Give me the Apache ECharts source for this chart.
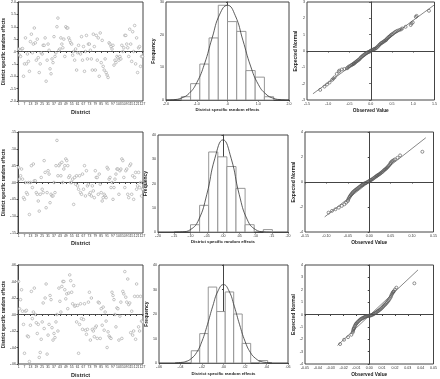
<!DOCTYPE html>
<html>
<head>
<meta charset="utf-8">
<script src="https://cdn.jsdelivr.net/npm/echarts/dist/echarts.min.js"></script>
<style>
  html, body { margin: 0; padding: 0; background: #fff; }
  #chart { width: 440px; height: 379px; }
</style>
</head>
<body>
<div id="chart"></div>
<script>
// districts 1..127
const districts = Array.from({ length: 127 }, (_, i) => String(i + 1))

// district specific random effects, one value per district (rows 1-3)
const effects1 = [
  0.1, -0.15, -0.2, 0.1, 0.12, -1.0, -0.5, 0.55, -0.5, -0.1,
  -0.4, -0.8, 0.4, 0.7, -0.05, 0.3, 0.95, 0.35, -0.35, 0.5,
  -0.25, -0.85, -0.5, -0.05, -0.1, 0.25, 0.25, 0.55, -1.2, -0.35,
  0.3, 0.05, -0.7, -0.9, -0.3, -0.45, 0.6, -0.2, -0.05, 1.0,
  1.35, 0.05, 0.1, 0.55, 0.3, 0.15, 0.5, -0.2, 1.0, 0.95,
  0.95, 0.55, 0.45, 0.35, 0.3, -0.15, 0.0, -0.35, 0.1, -0.75,
  -0.05, 0.25, -0.05, -0.1, 0.6, -0.35, 0.2, -0.8, 0.0, 0.65,
  -0.3, 0.3, 0.3, 0.05, -0.3, -0.75, 0.7, 0.2, -0.75, 0.65,
  -0.35, 0.55, -1.0, 0.75, -0.45, 0.45, -0.6, -0.75, -0.3, -0.85,
  -0.95, -1.05, 0.35, 0.3, 0.2, 0.1, 0.25, -0.55, -0.35, -0.45,
  -0.2, -0.25, -0.35, -0.2, -0.3, 0.25, 0.0, 0.15, 0.65, 0.65,
  0.3, 0.15, -0.2, 0.9, 0.3, -0.4, 0.8, 0.0, 1.05, -0.5,
  0.55, -0.85, 0.15, 0.2, -0.6, -0.2, -0.2
]
const effects2 = [
  0.045, 0.01, 0.02, 0.04, 0.01, -0.045, -0.05, 0.0, -0.03, -0.035,
  0.0, -0.095, 0.0, 0.05, -0.015, 0.055, 0.005, 0.005, -0.03, -0.035,
  -0.055, -0.085, -0.035, 0.015, -0.02, -0.03, 0.065, 0.03, -0.075, -0.03,
  0.035, 0.025, -0.06, -0.035, -0.04, -0.04, 0.0, -0.03, 0.05, 0.125,
  0.02, 0.05, 0.055, 0.02, 0.06, 0.0, 0.04, 0.05, 0.07, 0.065,
  0.05, 0.015, 0.02, 0.0, 0.0, 0.01, -0.065, 0.015, -0.005, 0.02,
  -0.01, -0.02, 0.02, -0.03, -0.035, 0.025, -0.02, 0.05, -0.04, 0.035,
  -0.01, -0.005, -0.035, -0.03, -0.04, -0.01, -0.025, -0.045, 0.035, 0.015,
  0.015, -0.035, 0.025, -0.005, -0.03, -0.055, -0.045, -0.035, -0.04, -0.045,
  0.045, 0.04, 0.01, 0.015, -0.015, 0.0, -0.05, -0.015, 0.01, 0.025,
  0.04, 0.04, -0.035, 0.035, 0.04, 0.07, 0.065, 0.015, -0.015, 0.035,
  0.04, -0.035, -0.045, 0.05, 0.055, -0.035, 0.02, -0.05, 0.015, 0.03,
  -0.02, -0.01, 0.03, -0.015, 0.0, -0.04, -0.02
]
const effects3 = [
  0.04, 0.007, 0.018, 0.03, 0.004, -0.012, -0.047, 0.004, 0.005, -0.026,
  -0.027, -0.057, -0.013, 0.028, -0.005, 0.003, 0.032, 0.0, -0.01, -0.023,
  -0.012, -0.052, -0.046, -0.03, -0.009, 0.014, -0.017, 0.02, 0.037, -0.048,
  -0.025, -0.012, 0.023, 0.018, -0.016, -0.031, -0.023, -0.028, -0.009, 0.0,
  -0.02, 0.032, 0.016, 0.003, 0.034, 0.04, 0.04, 0.03, 0.019, 0.025,
  0.007, 0.026, 0.048, 0.041, 0.027, 0.013, 0.035, 0.01, 0.011, -0.009,
  0.011, -0.047, -0.012, 0.013, -0.005, -0.018, -0.006, 0.013, -0.019, -0.024,
  -0.018, 0.015, 0.027, -0.031, 0.02, -0.018, -0.02, -0.027, -0.016, -0.014,
  -0.029, 0.015, 0.014, -0.029, 0.007, -0.013, 0.009, -0.019, 0.003, -0.008,
  -0.04, -0.021, -0.026, -0.028, -0.029, 0.027, 0.023, 0.018, 0.0, -0.015,
  0.008, 0.007, -0.031, -0.002, 0.015, -0.029, 0.028, 0.025, 0.052, 0.021,
  0.015, 0.043, 0.012, 0.014, -0.022, 0.004, -0.025, -0.02, 0.022, -0.03,
  0.037, 0.022, -0.015, -0.02, 0.022, -0.008, -0.009
]
const refLevel = 0

// histograms: bin edges and frequencies
const hist1Edges = [-1.5, -1.2, -0.9, -0.6, -0.3, 0.0, 0.3, 0.6, 0.9, 1.2, 1.5]
const hist1Counts = [1, 5, 11, 19, 29, 24, 21, 9, 7, 1]
const hist2Edges = [-0.100, -0.072, -0.044, -0.016, 0.012, 0.040, 0.068, 0.096, 0.124, 0.152]
const hist2Counts = [3, 11, 33, 31, 27, 18, 3, 0, 1]
const hist3Edges = [-0.030, -0.0221, -0.0142, -0.0063, 0.0016, 0.0095, 0.0174, 0.0253, 0.0332, 0.0411]
const hist3Counts = [5, 12, 31, 21, 29, 20, 8, 0, 1]

// normal curves
const curve1X = [-2.0, -1.75, -1.5, -1.25, -1.0, -0.75, -0.5, -0.25, 0.0, 0.25, 0.5, 0.75, 1.0, 1.25, 1.5, 1.75, 2.0]
const curve1Y = [0.0, 0.1, 0.6, 2.0, 5.3, 11.0, 19.0, 26.3, 29.0, 25.9, 18.3, 10.4, 4.8, 1.8, 0.5, 0.1, 0.0]
const curve2X = [-0.15, -0.125, -0.1, -0.075, -0.05, -0.025, 0.0, 0.025, 0.05, 0.075, 0.1, 0.125, 0.15]
const curve2Y = [0.0, 0.1, 1.0, 5.0, 15.4, 30.4, 38.0, 30.4, 15.4, 5.0, 1.0, 0.1, 0.0]
const curve3X = [-0.045, -0.04, -0.035, -0.03, -0.025, -0.02, -0.015, -0.01, -0.005, 0.0, 0.005, 0.01, 0.015, 0.02, 0.025, 0.03, 0.035, 0.04, 0.045]
const curve3Y = [0.05, 0.2, 0.6, 1.8, 4.3, 8.9, 15.6, 23.2, 29.5, 32.0, 29.5, 23.2, 15.6, 8.9, 4.3, 1.8, 0.6, 0.2, 0.05]

// normal Q-Q plots: observed value / expected normal
const qq1Obs = [-1.19, -1.09, -0.97, -0.91, -0.85, -0.80, -0.75, -0.74, -0.56, -0.52, -0.46, -0.42, -0.39, -0.35, -0.31, -0.27, -0.23, -0.19, -0.15, -0.11, -0.07, -0.03, 0.00, 0.04, 0.08, 0.12, 0.16, 0.20, 0.24, 0.28, 0.32, 0.36, 0.39, 0.43, 0.47, 0.51, 0.57, 0.63, 0.71, 0.74, 0.82, 0.94, 0.96, 0.99, 1.06, 1.08, 1.37,
  -0.54, -0.49, -0.44, -0.40, -0.37, -0.33, -0.29, -0.25, -0.21, -0.17, -0.13, -0.09, -0.05, -0.01, 0.02, 0.06, 0.10, 0.14, 0.18, 0.22, 0.26, 0.30, 0.34, 0.37, 0.41, 0.45, 0.49, 0.54, 0.60, 0.67, -0.68, -0.62, -0.88, -1.03]
const qq1Exp = [-2.38, -2.18, -1.93, -1.77, -1.61, -1.40, -1.26, -1.20, -1.06, -0.96, -0.87, -0.81, -0.75, -0.67, -0.59, -0.51, -0.39, -0.30, -0.22, -0.14, -0.08, -0.04, 0.02, 0.06, 0.12, 0.16, 0.26, 0.37, 0.47, 0.53, 0.61, 0.67, 0.77, 0.87, 0.96, 1.04, 1.16, 1.24, 1.32, 1.38, 1.48, 1.59, 1.69, 1.75, 2.09, 2.15, 2.46,
  -1.02, -0.92, -0.84, -0.78, -0.71, -0.63, -0.55, -0.45, -0.35, -0.26, -0.18, -0.11, -0.06, -0.01, 0.04, 0.09, 0.14, 0.21, 0.31, 0.42, 0.50, 0.57, 0.64, 0.72, 0.82, 0.91, 1.00, 1.10, 1.20, 1.28, -1.13, -1.10, -1.69, -2.05]
const qq1LineX = [-1.36, 1.5]
const qq1LineY = [-2.62, 2.83]

const qq2Obs = [-0.095, -0.087, -0.079, -0.071, -0.064, -0.058, -0.054, -0.050, -0.048, -0.045, -0.042, -0.039, -0.035, -0.031, -0.027, -0.023, -0.019, -0.016, -0.012, -0.008, -0.004, 0.000, 0.004, 0.008, 0.012, 0.016, 0.019, 0.023, 0.027, 0.031, 0.035, 0.039, 0.043, 0.047, 0.050, 0.054, 0.060, 0.066, 0.072, 0.124,
  -0.049, -0.046, -0.043, -0.040, -0.037, -0.033, -0.029, -0.025, -0.021, -0.017, -0.014, -0.010, -0.006, -0.002, 0.002, 0.006, 0.010, 0.014, 0.018, 0.021, 0.025, 0.029, 0.033, 0.037, 0.041, 0.045, 0.049, 0.052, 0.057]
const qq2Exp = [-2.45, -2.31, -2.18, -2.05, -1.91, -1.78, -1.65, -1.52, -1.30, -1.12, -0.98, -0.85, -0.72, -0.61, -0.51, -0.40, -0.29, -0.21, -0.13, -0.08, 0.00, 0.08, 0.16, 0.24, 0.35, 0.45, 0.53, 0.61, 0.72, 0.82, 0.96, 1.06, 1.20, 1.36, 1.54, 1.68, 1.81, 1.94, 2.13, 2.42,
  -1.41, -1.21, -1.05, -0.92, -0.78, -0.66, -0.56, -0.45, -0.35, -0.25, -0.17, -0.10, -0.04, 0.04, 0.12, 0.20, 0.30, 0.40, 0.49, 0.57, 0.66, 0.77, 0.89, 1.01, 1.13, 1.28, 1.45, 1.61, 1.75]
const qq2LineX = [-0.104, 0.132]
const qq2LineY = [-2.79, 3.54]

const qq3Obs = [-0.0227, -0.0196, -0.0165, -0.0139, -0.0129, -0.0124, -0.0119, -0.0111, -0.0103, -0.0093, -0.0080, -0.0067, -0.0054, -0.0041, -0.0028, -0.0015, -0.0003, 0.0010, 0.0023, 0.0036, 0.0049, 0.0062, 0.0075, 0.0088, 0.0101, 0.0113, 0.0126, 0.0139, 0.0152, 0.0165, 0.0173, 0.0183, 0.0191, 0.0211, 0.0351,
  -0.0126, -0.0121, -0.0115, -0.0107, -0.0098, -0.0087, -0.0073, -0.0060, -0.0047, -0.0034, -0.0021, -0.0009, 0.0004, 0.0016, 0.0030, 0.0043, 0.0055, 0.0068, 0.0081, 0.0094, 0.0107, 0.0120, 0.0133, 0.0146, 0.0158, 0.0169, 0.0178, 0.0187, 0.0200]
const qq3Exp = [-2.39, -2.04, -1.83, -1.64, -1.45, -1.23, -1.10, -0.91, -0.75, -0.64, -0.51, -0.38, -0.30, -0.24, -0.16, -0.13, -0.11, -0.08, -0.03, 0.05, 0.13, 0.24, 0.32, 0.43, 0.56, 0.70, 0.83, 0.99, 1.15, 1.37, 1.58, 1.77, 1.88, 2.17, 2.52,
  -1.34, -1.16, -1.00, -0.83, -0.70, -0.57, -0.44, -0.34, -0.27, -0.20, -0.14, -0.12, -0.09, -0.05, 0.01, 0.09, 0.18, 0.28, 0.38, 0.50, 0.63, 0.77, 0.91, 1.07, 1.26, 1.47, 1.68, 1.83, 2.02]
const qq3LineX = [-0.0247, 0.0379]
const qq3LineY = [-2.50, 3.60]

// tick labels
const effects1Ticks = ['-2.0', '-1.5', '-1.0', '-.5', '.0', '.5', '1.0', '1.5', '2.0']
const effects2Ticks = ['-.15', '-.10', '-.05', '.00', '.05', '.10', '.15']
const effects3Ticks = ['-.06', '-.04', '-.02', '.00', '.02', '.04', '.06']
const hist1XTicks = ['-2.0', '-1.0', '.0', '1.0', '2.0']
const hist2XTicks = ['-.20', '-.15', '-.10', '-.05', '.00', '.05', '.10', '.15', '.20']
const hist3XTicks = ['-.06', '-.04', '-.02', '.00', '.02', '.04', '.06']
const qq1XTicks = ['-1.5', '-1.0', '-0.5', '0.0', '0.5', '1.0', '1.5']
const qq2XTicks = ['-0.15', '-0.10', '-0.05', '0.00', '0.05', '0.10', '0.15']
const qq3XTicks = ['-0.05', '-0.04', '-0.03', '-0.02', '-0.01', '0.00', '0.01', '0.02', '0.03', '0.04', '0.05']

const FONT = 'Liberation Sans, Arial, sans-serif'
const AX = '#444'

const grids = [
  { left: 14, top: 2, width: 129, height: 99 },
  { left: 166, top: 2, width: 123, height: 98 },
  { left: 307, top: 2, width: 130, height: 98 },
  { left: 14, top: 132, width: 129, height: 101 },
  { left: 158, top: 135, width: 130, height: 97 },
  { left: 305, top: 132, width: 129, height: 100 },
  { left: 14, top: 265, width: 129, height: 100 },
  { left: 159, top: 265, width: 129, height: 98 },
  { left: 305, top: 265, width: 131, height: 99 }
].map(g => Object.assign({ show: true, borderColor: AX, borderWidth: 1, backgroundColor: '#fff' }, g))

const nameStyle = (size) => ({ fontFamily: FONT, fontSize: size, fontWeight: 'bold', color: '#222' })

function valAxis(gridIndex, min, max, interval, ticks, name, gap, nameSize) {
  return {
    type: 'value',
    gridIndex,
    min, max, interval,
    name,
    nameLocation: 'middle',
    nameGap: gap,
    nameTextStyle: nameStyle(nameSize),
    axisLine: { show: true, lineStyle: { color: AX, width: 1 } },
    axisTick: { show: true, length: 1.5, lineStyle: { color: AX } },
    axisLabel: {
      fontFamily: FONT, fontSize: 3.6, color: '#333', margin: 2,
      formatter: ticks ? (v, i) => (ticks[i] !== undefined ? ticks[i] : '') : null
    },
    splitLine: { show: false }
  }
}

function catAxis(gridIndex, gap) {
  return {
    type: 'category',
    gridIndex,
    data: districts,
    name: 'District',
    nameLocation: 'middle',
    nameGap: gap,
    nameTextStyle: nameStyle(5.5),
    axisLine: { show: true, lineStyle: { color: AX } },
    axisTick: { show: true, interval: 5, length: 1.5, alignWithLabel: true, lineStyle: { color: AX } },
    axisLabel: { interval: 5, fontFamily: FONT, fontSize: 3.4, color: '#333', margin: 2 }
  }
}

const xAxis = [
  catAxis(0, 8),
  valAxis(1, -2, 2, 1, hist1XTicks, 'District specific random effects', 8, 4.3),
  valAxis(2, -1.5, 1.5, 0.5, qq1XTicks, 'Observed Value', 8, 4.8),
  catAxis(3, 7.5),
  valAxis(4, -0.2, 0.2, 0.05, hist2XTicks, 'District specific random effects', 8, 4.3),
  valAxis(5, -0.15, 0.15, 0.05, qq2XTicks, 'Observed Value', 8, 4.8),
  catAxis(6, 8),
  valAxis(7, -0.06, 0.06, 0.02, hist3XTicks, 'District specific random effects', 8.5, 4.3),
  valAxis(8, -0.05, 0.05, 0.01, qq3XTicks, 'Observed Value', 8.5, 4.8)
]
const yAxis = [
  valAxis(0, -2, 2, 0.5, effects1Ticks, 'District specific random effects', 8, 4.5),
  valAxis(1, 0, 30, 10, null, 'Frequency', 9, 5),
  valAxis(2, -3, 3, 1, null, 'Expected Normal', 7, 5),
  valAxis(3, -0.15, 0.15, 0.05, effects2Ticks, 'District specific random effects', 8, 4.5),
  valAxis(4, 0, 40, 10, null, 'Frequency', 6, 5),
  valAxis(5, -4, 4, 2, null, 'Expected Normal', 7, 5),
  valAxis(6, -0.06, 0.06, 0.02, effects3Ticks, 'District specific random effects', 8, 4.5),
  valAxis(7, 0, 40, 10, null, 'Frequency', 6, 5),
  valAxis(8, -4, 4, 1, null, 'Expected Normal', 7, 5)
]

function effectSeries(idx, values) {
  return {
    type: 'scatter',
    xAxisIndex: idx, yAxisIndex: idx,
    data: values,
    symbol: 'circle',
    symbolSize: 2.6,
    itemStyle: { color: '#fff', borderColor: '#9a9a9a', borderWidth: 0.7 },
    markLine: {
      silent: true,
      symbol: ['none', 'none'],
      label: { show: false },
      lineStyle: { type: [1, 1], color: '#555', width: 1 },
      data: [{ yAxis: refLevel }]
    }
  }
}

function histSeries(idx, edges, counts) {
  return {
    type: 'custom',
    xAxisIndex: idx, yAxisIndex: idx,
    data: counts.map((c, i) => [edges[i], edges[i + 1], c]),
    encode: { x: [0, 1], y: 2 },
    renderItem: (params, api) => {
      if (!api.value(2)) return null
      const a = api.coord([api.value(0), api.value(2)])
      const b = api.coord([api.value(1), 0])
      return {
        type: 'rect',
        shape: { x: a[0], y: a[1], width: b[0] - a[0], height: b[1] - a[1] },
        style: { fill: '#fff', stroke: '#8c8c8c', lineWidth: 0.9 }
      }
    }
  }
}

function curveSeries(idx, xs, ys) {
  return {
    type: 'line',
    xAxisIndex: idx, yAxisIndex: idx,
    data: xs.map((x, i) => [x, ys[i]]),
    smooth: true,
    symbol: 'none',
    lineStyle: { color: '#333', width: 0.8 }
  }
}

function qqSeries(idx, obs, exp, lineX, lineY) {
  return [
    {
      type: 'line',
      xAxisIndex: idx, yAxisIndex: idx,
      data: lineX.map((x, i) => [x, lineY[i]]),
      symbol: 'none',
      lineStyle: { color: '#555', width: 0.7 }
    },
    {
      type: 'scatter',
      xAxisIndex: idx, yAxisIndex: idx,
      data: obs.map((x, i) => [x, exp[i]]),
      symbol: 'circle',
      symbolSize: 3,
      itemStyle: { color: 'rgba(255,255,255,0)', borderColor: '#555', borderWidth: 0.8 }
    }
  ]
}

const chart = echarts.init(document.getElementById('chart'), null, { renderer: 'canvas' })
chart.setOption({
  animation: false,
  backgroundColor: '#fff',
  grid: grids,
  xAxis,
  yAxis,
  series: [
    effectSeries(0, effects1),
    histSeries(1, hist1Edges, hist1Counts),
    curveSeries(1, curve1X, curve1Y),
    ...qqSeries(2, qq1Obs, qq1Exp, qq1LineX, qq1LineY),
    effectSeries(3, effects2),
    histSeries(4, hist2Edges, hist2Counts),
    curveSeries(4, curve2X, curve2Y),
    ...qqSeries(5, qq2Obs, qq2Exp, qq2LineX, qq2LineY),
    effectSeries(6, effects3),
    histSeries(7, hist3Edges, hist3Counts),
    curveSeries(7, curve3X, curve3Y),
    ...qqSeries(8, qq3Obs, qq3Exp, qq3LineX, qq3LineY)
  ]
})
</script>
</body>
</html>
